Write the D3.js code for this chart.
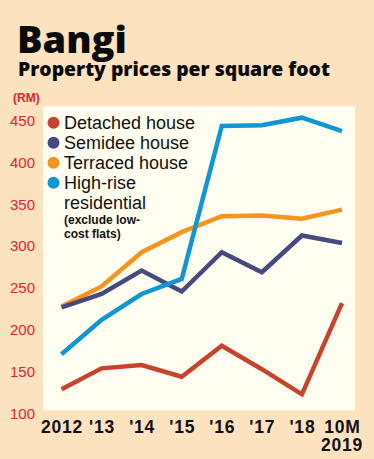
<!DOCTYPE html>
<html><head><meta charset="utf-8">
<script src="https://cdn.jsdelivr.net/npm/d3@7"></script>
<style>html,body{margin:0;padding:0;background:#fde2bf;}svg{display:block;}</style>
</head><body>
<script>
const categories = ["2012", "'13", "'14", "'15", "'16", "'17", "'18", "10M"];
const detached = [126, 151, 155, 141, 178, 150, 120, 229];
const semidee  = [224, 240, 268, 243, 290, 266, 310, 301];
const terraced = [225, 249, 290, 314, 333, 334, 330, 341];
const highrise = [168, 209, 240, 258, 441, 442, 451, 435];
const yTicks = [100, 150, 200, 250, 300, 350, 400, 450];
const seriesNames = ["Detached house", "Semidee house", "Terraced house", "High-rise"];
const colors = ["#c9432c", "#474a80", "#f7941d", "#0f97d5"];

const W = 374, H = 459;
const svg = d3.select("body").append("svg").attr("width", W).attr("height", H);
svg.append("rect").attr("width", W).attr("height", H).attr("fill", "#fde2bf");

const plot = {left: 43, right: 355, top: 106.5, bottom: 410.5};
svg.append("rect").attr("x", plot.left).attr("y", plot.top)
  .attr("width", plot.right - plot.left).attr("height", plot.bottom - plot.top)
  .attr("fill", "#fffef0");

const x = d3.scalePoint().domain(categories).range([61.5, 342]);
const y = d3.scaleLinear().domain([100, 450]).range([411, 118.5]);

function fitText(sel, targetW) {
  const w = sel.node().getComputedTextLength();
  const fs = +sel.attr("font-size");
  sel.attr("font-size", fs * targetW / w);
}

// Title
const t1 = svg.append("text").attr("x", 17).attr("y", 53).text("Bangi")
  .attr("font-family", "'Open Sans', sans-serif").attr("font-weight", 800)
  .attr("font-size", 38).attr("fill", "#0a0a0a");
fitText(t1, 110);
const t2 = svg.append("text").attr("x", 18).attr("y", 76).text("Property prices per square foot")
  .attr("font-family", "'Open Sans', sans-serif").attr("font-weight", 800)
  .attr("font-size", 18).attr("fill", "#0a0a0a");
fitText(t2, 312);
svg.append("text").attr("x", 13).attr("y", 102).text("(RM)")
  .attr("font-family", "'Liberation Sans Narrow', sans-serif").attr("font-size", 12)
  .attr("font-weight", "bold").attr("fill", "#e8232a");

// Y axis
const yAxis = d3.axisLeft(y).tickValues(yTicks).tickSize(0).tickPadding(0);
const gy = svg.append("g").attr("transform", "translate(35,0)").call(yAxis);
gy.select(".domain").remove();
gy.selectAll("text").attr("font-family", "'Liberation Sans Narrow', sans-serif")
  .attr("font-size", 15).attr("fill", "#e8232a").attr("dy", "0.4em")
  .attr("transform", "translate(0,1)");

// X axis
const xAxis = d3.axisBottom(x).tickSize(0).tickPadding(0);
const gx = svg.append("g").attr("transform", "translate(0,420)").call(xAxis);
gx.select(".domain").remove();
gx.selectAll("text").attr("font-family", "'Liberation Sans Narrow', sans-serif")
  .attr("font-weight", "bold").attr("font-size", 17.5).attr("fill", "#111")
  .attr("dy", "0.72em").attr("letter-spacing", 0.8);
svg.append("text").attr("x", x("10M")).attr("y", 451).attr("text-anchor", "middle")
  .text("2019").attr("font-family", "'Liberation Sans Narrow', sans-serif")
  .attr("font-weight", "bold").attr("font-size", 17.5).attr("fill", "#111").attr("letter-spacing", 0.8);

// Lines
const line = d3.line().x((d, i) => x(categories[i])).y(d => y(d));
const drawOrder = [[detached, 0], [terraced, 2], [semidee, 1], [highrise, 3]];
drawOrder.forEach(([data, ci]) => {
  svg.append("path").datum(data).attr("d", line).attr("fill", "none")
    .attr("stroke", colors[ci]).attr("stroke-width", 4.5).attr("stroke-linejoin", "miter");
});

// Legend
const legY = [122.7, 142.7, 162.7, 182.7];
const legend = svg.append("g");
seriesNames.forEach((n, i) => {
  legend.append("circle").attr("cx", 53.5).attr("cy", legY[i]).attr("r", 6).attr("fill", colors[i]);
  legend.append("text").attr("x", 64).attr("y", legY[i] + 6.6).text(n)
    .attr("font-family", "'Liberation Sans Narrow', sans-serif").attr("font-size", 18).attr("fill", "#111");
});
legend.append("text").attr("x", 64).attr("y", 209.3).text("residential")
  .attr("font-family", "'Liberation Sans Narrow', sans-serif").attr("font-size", 18).attr("fill", "#111");
legend.append("text").attr("x", 64).attr("y", 224).text("(exclude low-")
  .attr("font-family", "'Liberation Sans Narrow', sans-serif").attr("font-weight", "bold").attr("font-size", 12).attr("fill", "#111");
legend.append("text").attr("x", 64).attr("y", 238).text("cost flats)")
  .attr("font-family", "'Liberation Sans Narrow', sans-serif").attr("font-weight", "bold").attr("font-size", 12).attr("fill", "#111");
</script>
</body></html>
